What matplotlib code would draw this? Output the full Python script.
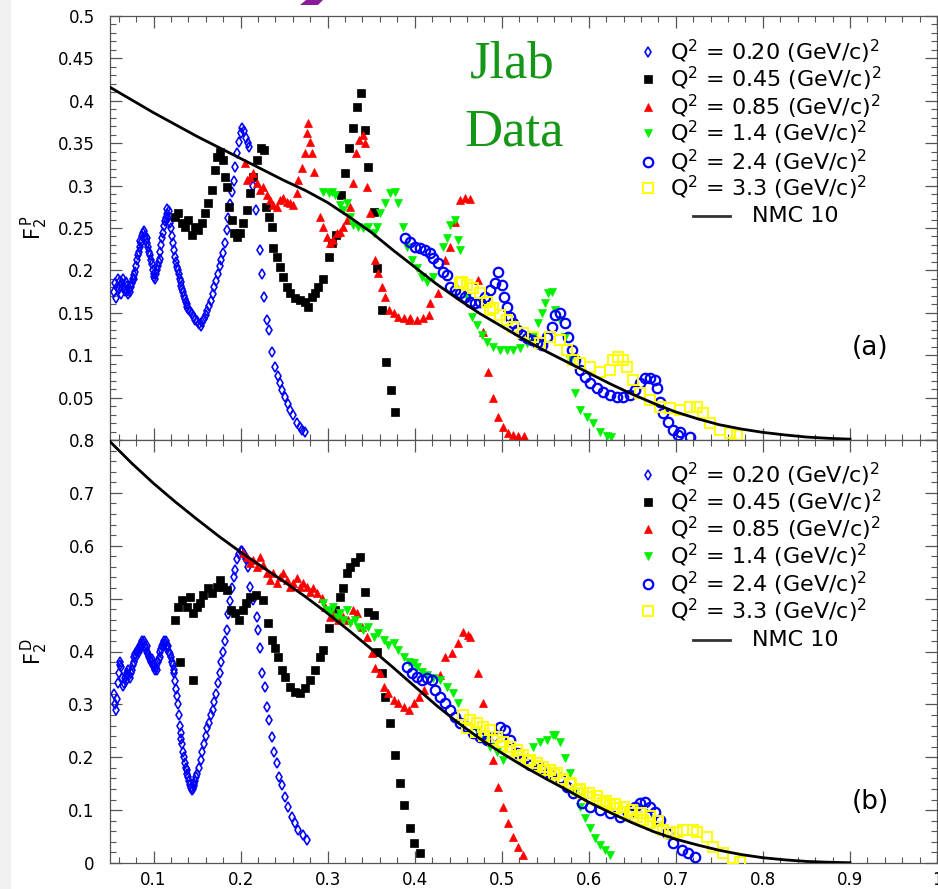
import matplotlib
matplotlib.use("Agg")
import matplotlib.pyplot as plt
from matplotlib.ticker import MultipleLocator, FuncFormatter
from matplotlib.patches import Rectangle, Polygon

plt.rcParams['font.family'] = ['DejaVu Sans']
plt.rcParams['mathtext.fontset'] = 'dejavusans'

# ---------------- Panel (a): proton F2 ----------------
p_q020_x = [0.055, 0.056, 0.057, 0.058, 0.059, 0.060, 0.061, 0.062, 0.063, 0.064, 0.065, 0.066, 0.067, 0.068,
            0.069, 0.070, 0.071, 0.072, 0.073, 0.074, 0.075, 0.076, 0.077, 0.078, 0.079, 0.080, 0.081, 0.082,
            0.083, 0.084, 0.085, 0.086, 0.087, 0.088, 0.089, 0.090, 0.091, 0.092, 0.093, 0.094, 0.095, 0.096,
            0.097, 0.098, 0.099, 0.100, 0.101, 0.102, 0.103, 0.104, 0.105, 0.106, 0.107, 0.108, 0.109, 0.110,
            0.111, 0.112, 0.113, 0.114, 0.115, 0.116, 0.117, 0.118, 0.119, 0.120, 0.121, 0.122, 0.124, 0.125,
            0.126, 0.127, 0.128, 0.129, 0.130, 0.131, 0.132, 0.133, 0.134, 0.135, 0.136, 0.137, 0.138, 0.139,
            0.140, 0.142, 0.144, 0.146, 0.148, 0.150, 0.152, 0.154, 0.156, 0.158, 0.160, 0.162, 0.164, 0.166,
            0.168, 0.170, 0.172, 0.174, 0.176, 0.178, 0.180, 0.182, 0.184, 0.186, 0.188, 0.190, 0.192, 0.194,
            0.196, 0.198, 0.200, 0.202, 0.204, 0.206, 0.208, 0.210, 0.214, 0.2175, 0.2224, 0.2243, 0.227,
            0.230, 0.233, 0.236, 0.240, 0.243, 0.2454, 0.248, 0.251, 0.254, 0.257, 0.260, 0.2646, 0.268,
            0.271, 0.274]
p_q020_y = [0.175, 0.185, 0.168, 0.180, 0.190, 0.178, 0.188, 0.182, 0.172, 0.185, 0.190, 0.180, 0.176, 0.186,
            0.182, 0.176, 0.172, 0.178, 0.174, 0.180, 0.185, 0.190, 0.195, 0.190, 0.198, 0.205, 0.212, 0.218,
            0.222, 0.228, 0.235, 0.232, 0.240, 0.244, 0.246, 0.240, 0.236, 0.232, 0.238, 0.228, 0.222, 0.218,
            0.212, 0.208, 0.200, 0.196, 0.192, 0.190, 0.196, 0.200, 0.205, 0.210, 0.214, 0.222, 0.230, 0.238,
            0.244, 0.252, 0.258, 0.262, 0.266, 0.272, 0.262, 0.270, 0.256, 0.250, 0.240, 0.232, 0.224, 0.216,
            0.210, 0.204, 0.200, 0.196, 0.190, 0.186, 0.182, 0.178, 0.174, 0.170, 0.166, 0.163, 0.160, 0.157,
            0.155, 0.152, 0.148, 0.145, 0.142, 0.140, 0.137, 0.134, 0.139, 0.143, 0.147, 0.152, 0.158, 0.164,
            0.172, 0.180, 0.188, 0.196, 0.205, 0.212, 0.220, 0.232, 0.248, 0.262, 0.278, 0.292, 0.305, 0.322,
            0.338, 0.352, 0.362, 0.368, 0.364, 0.356, 0.350, 0.346, 0.299, 0.271, 0.224, 0.196, 0.169,
            0.1415, 0.130, 0.104, 0.0865, 0.075, 0.0668, 0.059, 0.051, 0.043, 0.0354, 0.029, 0.0196, 0.015,
            0.012, 0.0098]

p_q045_x = [0.1247, 0.1285, 0.1324, 0.1362, 0.140, 0.1439, 0.1477, 0.1515, 0.1554, 0.1592, 0.163, 0.1669,
            0.1707, 0.1726, 0.1764, 0.1795, 0.1822, 0.1841, 0.1872, 0.1898, 0.1925, 0.1956, 0.1994, 0.2033,
            0.2071, 0.2109, 0.2148, 0.2186, 0.2232, 0.227, 0.2293, 0.2331, 0.2358, 0.2377, 0.2416, 0.2454,
            0.2492, 0.2531, 0.2569, 0.2626, 0.2684, 0.2741, 0.278, 0.2818, 0.2856, 0.2895, 0.2944, 0.301,
            0.3048, 0.3098, 0.3151, 0.320, 0.324, 0.3297, 0.3335, 0.3381, 0.3431, 0.3469, 0.3527, 0.3565,
            0.3623, 0.3672, 0.3726, 0.3776]
p_q045_y = [0.2633, 0.2673, 0.2555, 0.2515, 0.2594, 0.2417, 0.2515, 0.2476, 0.2555, 0.2673, 0.279, 0.2948,
            0.3184, 0.334, 0.340, 0.330, 0.3105, 0.2987, 0.2751, 0.2594, 0.2437, 0.2398, 0.2437, 0.2555,
            0.2712, 0.2909, 0.3105, 0.330, 0.344, 0.342, 0.2751, 0.2633, 0.2515, 0.226, 0.2162, 0.2044,
            0.1926, 0.1808, 0.173, 0.167, 0.165, 0.163, 0.1572, 0.169, 0.173, 0.1808, 0.1894, 0.2162,
            0.232, 0.2417, 0.289, 0.3145, 0.344, 0.3675, 0.393, 0.4096, 0.3655, 0.3223, 0.2692, 0.2024,
            0.1533, 0.0924, 0.059, 0.0334]

p_q085_x = [0.2052, 0.2071, 0.2109, 0.2148, 0.2186, 0.2224, 0.2262, 0.230, 0.2339, 0.2377, 0.2416, 0.2454,
            0.2492, 0.2531, 0.2569, 0.2607, 0.2646, 0.2665, 0.2703, 0.2741, 0.2761, 0.278, 0.2799, 0.2818,
            0.2845, 0.2914, 0.2952, 0.299, 0.3029, 0.3067, 0.3105, 0.3144, 0.3182, 0.322, 0.3259, 0.3297,
            0.3328, 0.3366, 0.3404, 0.3431, 0.345, 0.3489, 0.3546, 0.3584, 0.3623, 0.3661, 0.370, 0.3757,
            0.3814, 0.3872, 0.3929, 0.3948, 0.4025, 0.4101, 0.4159, 0.418, 0.427, 0.435, 0.441, 0.4466,
            0.452, 0.458, 0.464, 0.473, 0.479, 0.4845, 0.490, 0.496, 0.502, 0.507, 0.513, 0.519, 0.525]
p_q085_y = [0.3262, 0.3066, 0.3105, 0.3145, 0.3026, 0.2948, 0.2987, 0.2889, 0.283, 0.2771, 0.2751, 0.283,
            0.285, 0.281, 0.279, 0.2771, 0.2909, 0.3066, 0.3203, 0.338, 0.3616, 0.3734, 0.3518, 0.338,
            0.3164, 0.2633, 0.2515, 0.2398, 0.232, 0.2358, 0.2437, 0.2457, 0.2515, 0.2594, 0.2751, 0.3026,
            0.338, 0.3537, 0.3596, 0.3498, 0.2987, 0.2673, 0.2122, 0.1965, 0.1808, 0.169, 0.1533, 0.1493,
            0.1454, 0.1434, 0.1415, 0.1435, 0.1415, 0.1435, 0.1474, 0.1612, 0.173, 0.212, 0.228, 0.257,
            0.283, 0.285, 0.284, 0.189, 0.127, 0.080, 0.0495, 0.027, 0.015, 0.008, 0.006, 0.005, 0.005]

p_q14_x = [0.2952, 0.301, 0.3048, 0.3086, 0.3144, 0.3182, 0.322, 0.3259, 0.3297, 0.3354, 0.3412, 0.3469,
           0.3527, 0.3565, 0.3603, 0.366, 0.3718, 0.3776, 0.381, 0.3868, 0.3914, 0.397, 0.4029, 0.4086,
           0.4144, 0.4213, 0.4328, 0.4374, 0.4408, 0.4466, 0.450, 0.4523, 0.4603, 0.466, 0.4718, 0.4776,
           0.4833, 0.4902, 0.4983, 0.5063, 0.5132, 0.5213, 0.5293, 0.5362, 0.542, 0.5466, 0.550, 0.5534,
           0.558, 0.5615, 0.5672, 0.573, 0.5787, 0.5845, 0.5902, 0.5983, 0.6052, 0.6132, 0.6213, 0.625]
p_q14_y = [0.2928, 0.2909, 0.2928, 0.2889, 0.277, 0.2712, 0.279, 0.2633, 0.2535, 0.2515, 0.2496, 0.2515,
           0.2437, 0.2515, 0.2673, 0.279, 0.291, 0.2925, 0.279, 0.251, 0.2277, 0.212, 0.2028, 0.1925,
           0.1867, 0.192, 0.2277, 0.238, 0.2535, 0.259, 0.236, 0.224, 0.1686, 0.145, 0.1356, 0.1238,
           0.1156, 0.1097, 0.1061, 0.1061, 0.1061, 0.1085, 0.1144, 0.1215, 0.138, 0.1497, 0.1615, 0.1733,
           0.1745, 0.1533, 0.1415, 0.1215, 0.0943, 0.0554, 0.0354, 0.0275, 0.020, 0.0098, 0.0047, 0.004]

p_q24_x = [0.389, 0.3948, 0.4006, 0.4063, 0.4121, 0.4178, 0.4213, 0.427, 0.4328, 0.4374, 0.4408, 0.4466,
           0.4523, 0.458, 0.4638, 0.4695, 0.4753, 0.481, 0.4868, 0.4925, 0.496, 0.5006, 0.5029, 0.5063,
           0.5098, 0.5132, 0.5178, 0.5236, 0.5293, 0.535, 0.5408, 0.5466, 0.5523, 0.558, 0.5615, 0.5672,
           0.573, 0.5764, 0.581, 0.5845, 0.5902, 0.596, 0.6017, 0.6098, 0.6167, 0.6247, 0.6328, 0.6397,
           0.6477, 0.6534, 0.6592, 0.6649, 0.6707, 0.6764, 0.6787, 0.6822, 0.6857, 0.6914, 0.6971, 0.7029,
           0.7052, 0.7167]
p_q24_y = [0.238, 0.2336, 0.2277, 0.2264, 0.224, 0.2201, 0.2146, 0.2087, 0.1981, 0.1945, 0.1808, 0.1769,
           0.1733, 0.1686, 0.1628, 0.1615, 0.1628, 0.1686, 0.1769, 0.1851, 0.1981, 0.1828, 0.1686, 0.1568,
           0.1451, 0.1379, 0.1297, 0.1238, 0.120, 0.118, 0.1144, 0.112, 0.1215, 0.1333, 0.1474, 0.1497,
           0.138, 0.1215, 0.1061, 0.0943, 0.0825, 0.0743, 0.0672, 0.0613, 0.0566, 0.0531, 0.0507, 0.0507,
           0.0531, 0.059, 0.0672, 0.0731, 0.0731, 0.0708, 0.0613, 0.0448, 0.0318, 0.0212, 0.0118, 0.0059,
           0.0094, 0.0035]

p_q33_x = [0.452, 0.4546, 0.4603, 0.4672, 0.4753, 0.4833, 0.4868, 0.4902, 0.4983, 0.5063, 0.5132, 0.5247,
           0.5362, 0.5443, 0.5557, 0.5672, 0.5753, 0.5822, 0.5902, 0.6017, 0.6132, 0.6247, 0.6282, 0.6339,
           0.6397, 0.6443, 0.6512, 0.6592, 0.6707, 0.6822, 0.6937, 0.7052, 0.7167, 0.7247, 0.7316, 0.7397,
           0.7512, 0.7626, 0.7707]
p_q33_y = [0.185, 0.1867, 0.1828, 0.1792, 0.1733, 0.1628, 0.153, 0.1557, 0.1474, 0.1415, 0.1333, 0.1262,
           0.1215, 0.1144, 0.1215, 0.118, 0.1061, 0.0943, 0.0908, 0.0861, 0.0802, 0.0825, 0.0943, 0.0979,
           0.0943, 0.0861, 0.0708, 0.0554, 0.0472, 0.0393, 0.0377, 0.0354, 0.0393, 0.0393, 0.0318, 0.020,
           0.0118, 0.0083, 0.0059]

p_nmc_x = [0.050, 0.075, 0.100, 0.125, 0.150, 0.175, 0.200, 0.225, 0.250, 0.275, 0.300, 0.325, 0.350,
           0.375, 0.400, 0.425, 0.450, 0.475, 0.500, 0.525, 0.550, 0.575, 0.600, 0.625, 0.650, 0.675,
           0.700, 0.725, 0.750, 0.775, 0.800, 0.825, 0.850, 0.875, 0.900]
p_nmc_y = [0.416, 0.401, 0.386, 0.372, 0.358, 0.345, 0.332, 0.319, 0.306, 0.294, 0.280, 0.263, 0.245,
           0.224, 0.204, 0.184, 0.166, 0.149, 0.134, 0.119, 0.105, 0.092, 0.079, 0.066, 0.054, 0.043,
           0.033, 0.025, 0.018, 0.013, 0.009, 0.006, 0.0035, 0.002, 0.001]

# ---------------- Panel (b): deuteron F2 ----------------
d_q020_x = [0.055, 0.056, 0.057, 0.058, 0.059, 0.060, 0.061, 0.062, 0.063, 0.064, 0.065, 0.066, 0.067, 0.068,
            0.069, 0.070, 0.071, 0.072, 0.073, 0.074, 0.075, 0.076, 0.077, 0.078, 0.079, 0.080, 0.081, 0.082,
            0.083, 0.084, 0.085, 0.086, 0.087, 0.088, 0.089, 0.090, 0.091, 0.092, 0.093, 0.094, 0.095, 0.096,
            0.097, 0.098, 0.099, 0.100, 0.101, 0.102, 0.103, 0.104, 0.105, 0.106, 0.107, 0.108, 0.109, 0.110,
            0.111, 0.112, 0.113, 0.114, 0.115, 0.116, 0.117, 0.118, 0.119, 0.120, 0.121, 0.122, 0.123, 0.124,
            0.125, 0.126, 0.127, 0.128, 0.129, 0.130, 0.131, 0.132, 0.133, 0.134, 0.135, 0.136, 0.137, 0.138,
            0.139, 0.140, 0.141, 0.142, 0.143, 0.144, 0.145, 0.146, 0.147, 0.148, 0.149, 0.150, 0.152, 0.154,
            0.156, 0.158, 0.160, 0.162, 0.164, 0.166, 0.168, 0.170, 0.172, 0.174, 0.176, 0.178, 0.180, 0.182,
            0.184, 0.186, 0.188, 0.190, 0.192, 0.194, 0.196, 0.198, 0.200, 0.202, 0.204, 0.206, 0.208,
            0.2109, 0.2148, 0.2186, 0.2205, 0.2224, 0.2251, 0.2282, 0.2308, 0.2331, 0.2358, 0.2385, 0.2416,
            0.2446, 0.2473, 0.2511, 0.255, 0.2588, 0.2626, 0.2665, 0.2715, 0.2761]
d_q020_y = [0.32, 0.30, 0.29, 0.31, 0.34, 0.36, 0.375, 0.38, 0.37, 0.35, 0.335, 0.34, 0.35, 0.345,
            0.355, 0.36, 0.365, 0.355, 0.35, 0.36, 0.365, 0.375, 0.38, 0.39, 0.395, 0.39, 0.40, 0.405,
            0.40, 0.41, 0.405, 0.415, 0.42, 0.415, 0.42, 0.41, 0.405, 0.40, 0.41, 0.395, 0.39, 0.385,
            0.38, 0.385, 0.375, 0.37, 0.375, 0.365, 0.37, 0.365, 0.38, 0.385, 0.39, 0.40, 0.405, 0.41,
            0.415, 0.42, 0.415, 0.42, 0.41, 0.405, 0.41, 0.40, 0.395, 0.39, 0.38, 0.375, 0.365, 0.36,
            0.345, 0.33, 0.315, 0.30, 0.28, 0.26, 0.245, 0.235, 0.225, 0.21, 0.20, 0.19, 0.18, 0.175,
            0.168, 0.162, 0.155, 0.148, 0.142, 0.138, 0.14, 0.145, 0.15, 0.155, 0.162, 0.168, 0.18, 0.195,
            0.21, 0.225, 0.24, 0.255, 0.265, 0.28, 0.29, 0.305, 0.32, 0.34, 0.36, 0.38, 0.40, 0.42,
            0.44, 0.47, 0.495, 0.52, 0.54, 0.555, 0.575, 0.585, 0.59, 0.59, 0.585, 0.575, 0.56,
            0.5223, 0.497, 0.4656, 0.4404, 0.4058, 0.3585, 0.3333, 0.2955, 0.2703, 0.2388, 0.2104, 0.1884,
            0.1632, 0.1474, 0.1254, 0.1065, 0.0876, 0.075, 0.0624, 0.0529, 0.0435]

d_q045_x = [0.1247, 0.1285, 0.1305, 0.1324, 0.1381, 0.142, 0.1458, 0.1458, 0.1496, 0.1534, 0.1573, 0.163,
            0.1669, 0.1726, 0.1764, 0.1803, 0.1841, 0.1887, 0.1937, 0.1987, 0.2025, 0.2063, 0.2109, 0.2178,
            0.2262, 0.232, 0.2358, 0.2397, 0.2435, 0.2473, 0.2511, 0.2569, 0.2626, 0.2684, 0.2741, 0.2799,
            0.2856, 0.2914, 0.2952, 0.301, 0.3086, 0.3144, 0.3182, 0.322, 0.3259, 0.3316, 0.3374, 0.3431,
            0.3469, 0.3527, 0.3565, 0.3623, 0.3661, 0.3718, 0.3776, 0.3833, 0.3872, 0.3941, 0.3987, 0.4056]
d_q045_y = [0.4593, 0.4845, 0.3806, 0.4971, 0.4845, 0.5035, 0.472, 0.346, 0.4845, 0.4908, 0.5066, 0.5192,
            0.5098, 0.5224, 0.535, 0.5224, 0.516, 0.4782, 0.4719, 0.4593, 0.4782, 0.4908, 0.5035, 0.5066,
            0.4971, 0.453, 0.4215, 0.4058, 0.3901, 0.3648, 0.3522, 0.3333, 0.3239, 0.3207, 0.3302, 0.346,
            0.3648, 0.3901, 0.4026, 0.4436, 0.4782, 0.5035, 0.5192, 0.5476, 0.5602, 0.5696, 0.5791, 0.5129,
            0.4751, 0.4688, 0.3995, 0.3585, 0.3144, 0.264, 0.2041, 0.1506, 0.1096, 0.0655, 0.0372, 0.0183]

d_q085_x = [0.2033, 0.2071, 0.2109, 0.2148, 0.2186, 0.2224, 0.2262, 0.230, 0.2339, 0.2377, 0.2416, 0.2454,
            0.2492, 0.2531, 0.2569, 0.2607, 0.2646, 0.2684, 0.2722, 0.2761, 0.2799, 0.2837, 0.2875, 0.2933,
            0.2971, 0.3029, 0.3067, 0.3124, 0.3182, 0.3239, 0.3297, 0.3335, 0.3393, 0.345, 0.3508, 0.3546,
            0.3603, 0.3642, 0.3699, 0.3757, 0.3814, 0.3872, 0.393, 0.3987, 0.4044, 0.4102, 0.4293, 0.4351,
            0.4431, 0.450, 0.4557, 0.4615, 0.4638, 0.473, 0.4787, 0.490, 0.496, 0.5017, 0.5075, 0.513,
            0.519, 0.5247]
d_q085_y = [0.5854, 0.5791, 0.5665, 0.5728, 0.5602, 0.5791, 0.5633, 0.5476, 0.535, 0.5476, 0.5287, 0.5413,
            0.5476, 0.535, 0.5224, 0.5287, 0.5381, 0.5224, 0.5287, 0.5224, 0.5129, 0.5192, 0.5098, 0.5003,
            0.4845, 0.4656, 0.4719, 0.4593, 0.4656, 0.4593, 0.4782, 0.4719, 0.4467, 0.4278, 0.3963, 0.368,
            0.3585, 0.333, 0.3207, 0.308, 0.3018, 0.2955, 0.2892, 0.3018, 0.3144, 0.327, 0.3554, 0.3894,
            0.397, 0.4159, 0.4367, 0.431, 0.427, 0.359, 0.302, 0.195, 0.144, 0.106, 0.0756, 0.049,
            0.030, 0.015]

d_q14_x = [0.2952, 0.299, 0.3029, 0.3067, 0.3105, 0.3144, 0.3182, 0.322, 0.3259, 0.3316, 0.3354, 0.3412,
           0.3469, 0.3527, 0.3584, 0.3642, 0.3699, 0.3757, 0.3814, 0.3872, 0.393, 0.3987, 0.4029, 0.4086,
           0.4144, 0.4213, 0.4293, 0.4374, 0.4443, 0.450, 0.4718, 0.4787, 0.4868, 0.4948, 0.5017, 0.5362,
           0.5443, 0.5523, 0.5592, 0.5615, 0.5672, 0.573, 0.5787, 0.5845, 0.5902, 0.596, 0.6017, 0.6075,
           0.6132, 0.619, 0.6247]
d_q14_y = [0.4909, 0.4782, 0.4719, 0.4845, 0.4656, 0.4719, 0.4593, 0.4782, 0.453, 0.4593, 0.4467, 0.4404,
           0.4467, 0.4278, 0.4341, 0.4215, 0.412, 0.4152, 0.4026, 0.390, 0.3806, 0.3774, 0.370, 0.362,
           0.355, 0.350, 0.346, 0.3327, 0.321, 0.3025, 0.2514, 0.2325, 0.2193, 0.2098, 0.195, 0.2193,
           0.2287, 0.2325, 0.242, 0.242, 0.2287, 0.1985, 0.170, 0.1323, 0.1059, 0.0851, 0.0662, 0.0473,
           0.034, 0.0246, 0.0151]

d_q24_x = [0.3914, 0.3971, 0.4029, 0.4086, 0.4144, 0.4201, 0.4236, 0.4293, 0.4351, 0.4408, 0.4466, 0.4523,
           0.4603, 0.4672, 0.4753, 0.4833, 0.4902, 0.4983, 0.504, 0.5098, 0.5178, 0.5247, 0.5328, 0.5443,
           0.5557, 0.5672, 0.5753, 0.5822, 0.5925, 0.6017, 0.6132, 0.6247, 0.6362, 0.6477, 0.6534, 0.6592,
           0.6649, 0.6707, 0.6764, 0.6822, 0.6902, 0.6971, 0.7075, 0.7144, 0.7224]
d_q24_y = [0.3705, 0.3592, 0.3516, 0.346, 0.3497, 0.346, 0.327, 0.3138, 0.3025, 0.2892, 0.276, 0.2646,
           0.2571, 0.2457, 0.2382, 0.2325, 0.2382, 0.2571, 0.2514, 0.2325, 0.2079, 0.1947, 0.1853, 0.1796,
           0.170, 0.1607, 0.1437, 0.1323, 0.1134, 0.1059, 0.1002, 0.0945, 0.087, 0.0945, 0.1059, 0.1134,
           0.1153, 0.1059, 0.0964, 0.0813, 0.0567, 0.0378, 0.0246, 0.0189, 0.0113]

d_q33_x = [0.4557, 0.4638, 0.4718, 0.4787, 0.4868, 0.4948, 0.5017, 0.5098, 0.5178, 0.5247, 0.5328, 0.5408,
           0.5477, 0.5557, 0.5638, 0.5706, 0.5787, 0.5868, 0.5937, 0.6017, 0.6098, 0.6167, 0.6247, 0.6328,
           0.6397, 0.6477, 0.6557, 0.6626, 0.6707, 0.6787, 0.6856, 0.6937, 0.7017, 0.7086, 0.7201, 0.7247,
           0.7362, 0.7431, 0.7546, 0.7661, 0.7741,
           0.460, 0.470, 0.480, 0.490, 0.500, 0.510, 0.520, 0.530, 0.540, 0.550, 0.560, 0.570, 0.580,
           0.590, 0.600, 0.610, 0.620, 0.630, 0.640, 0.650, 0.660, 0.670, 0.680]
d_q33_y = [0.2798, 0.2703, 0.2646, 0.2571, 0.2514, 0.2382, 0.2287, 0.2193, 0.2136, 0.2041, 0.1947, 0.189,
           0.1815, 0.1758, 0.170, 0.1569, 0.1512, 0.138, 0.1323, 0.1248, 0.1191, 0.1134, 0.1096, 0.104,
           0.0964, 0.0945, 0.087, 0.0813, 0.0756, 0.0681, 0.0624, 0.0567, 0.0586, 0.0624, 0.0624, 0.0586,
           0.0491, 0.0302, 0.0189, 0.0095, 0.0019,
           0.255, 0.248, 0.240, 0.232, 0.222, 0.212, 0.202, 0.192, 0.184, 0.176, 0.166, 0.158, 0.150,
           0.140, 0.132, 0.126, 0.118, 0.112, 0.106, 0.100, 0.094, 0.088, 0.080]

d_nmc_x = [0.050, 0.075, 0.100, 0.125, 0.150, 0.175, 0.200, 0.225, 0.250, 0.275, 0.300, 0.325, 0.350,
           0.375, 0.400, 0.425, 0.450, 0.475, 0.500, 0.525, 0.550, 0.575, 0.600, 0.625, 0.650, 0.675,
           0.700, 0.725, 0.750, 0.775, 0.800, 0.825, 0.850, 0.875, 0.900]
d_nmc_y = [0.797, 0.756, 0.718, 0.683, 0.650, 0.618, 0.588, 0.560, 0.532, 0.503, 0.472, 0.439, 0.405,
           0.370, 0.334, 0.298, 0.265, 0.235, 0.208, 0.183, 0.160, 0.138, 0.115, 0.095, 0.076, 0.059,
           0.045, 0.034, 0.024, 0.016, 0.010, 0.006, 0.003, 0.0015, 0.0005]

legend_labels = [r'Q$^{2}$ = 0.20 (GeV/c)$^{2}$', r'Q$^{2}$ = 0.45 (GeV/c)$^{2}$',
                 r'Q$^{2}$ = 0.85 (GeV/c)$^{2}$', r'Q$^{2}$ = 1.4 (GeV/c)$^{2}$',
                 r'Q$^{2}$ = 2.4 (GeV/c)$^{2}$', r'Q$^{2}$ = 3.3 (GeV/c)$^{2}$']
nmc_label = 'NMC 10'

BLUE = '#0000ff'
RED = '#ff0000'
GREEN = '#00f000'
YELLOW = '#ffff00'

styles = [
    dict(marker='d', ms=5.3, mfc='none', mec=BLUE, mew=1.15, ls='none'),
    dict(marker='s', ms=6.2, mfc='black', mec='black', mew=0.5, ls='none'),
    dict(marker='^', ms=6.2, mfc=RED, mec=RED, mew=0.5, ls='none'),
    dict(marker='v', ms=6.2, mfc=GREEN, mec=GREEN, mew=0.5, ls='none'),
    dict(marker='o', ms=6.8, mfc='none', mec=BLUE, mew=1.6, ls='none'),
    dict(marker='s', ms=6.8, mfc='none', mec=YELLOW, mew=1.4, ls='none'),
]

fig = plt.figure(figsize=(9.38, 8.89), dpi=100)
fig.patches.append(Rectangle((0, 0), 11 / 938, 1, transform=fig.transFigure,
                             facecolor='#f0f0f0', edgecolor='none', zorder=-5))
fig.patches.append(Polygon([(300 / 938, 1 - 5 / 889), (318 / 938, 1 - 5 / 889),
                            (323 / 938, 1.0), (306 / 938, 1.0)], closed=True,
                           transform=fig.transFigure, facecolor='#8a1c9a', edgecolor='none'))

ax1 = fig.add_axes([110 / 938, 449 / 889, 827 / 938, 424 / 889])
ax2 = fig.add_axes([110 / 938, 26 / 889, 827 / 938, 423 / 889])

panels = [
    (ax1, [(p_q020_x, p_q020_y), (p_q045_x, p_q045_y), (p_q085_x, p_q085_y),
           (p_q14_x, p_q14_y), (p_q24_x, p_q24_y), (p_q33_x, p_q33_y)], (p_nmc_x, p_nmc_y)),
    (ax2, [(d_q020_x, d_q020_y), (d_q045_x, d_q045_y), (d_q085_x, d_q085_y),
           (d_q14_x, d_q14_y), (d_q24_x, d_q24_y), (d_q33_x, d_q33_y)], (d_nmc_x, d_nmc_y)),
]

for ax, series, nmc in panels:
    for (xs, ys), st in zip(series, styles):
        ax.plot(xs, ys, **st, zorder=3)
    ax.plot(nmc[0], nmc[1], color='black', lw=2.0, zorder=4, solid_joinstyle='round')
    ax.set_xlim(0.05, 1.0)
    ax.xaxis.set_major_locator(MultipleLocator(0.1))
    ax.xaxis.set_minor_locator(MultipleLocator(0.02))
    ax.tick_params(which='both', direction='in', top=True, right=True, colors='#555555',
                   labelcolor='black', labelsize=12)
    ax.tick_params(which='major', length=8.5, width=0.9)
    ax.tick_params(which='minor', length=4.3, width=0.8)
    ax.tick_params(axis='y', pad=11)
    ax.tick_params(axis='x', pad=6)
    for s in ax.spines.values():
        s.set_color('#555555')
        s.set_linewidth(0.9)

ax1.set_ylim(0, 0.5)
ax1.yaxis.set_major_locator(MultipleLocator(0.05))
ax1.yaxis.set_minor_locator(MultipleLocator(0.01))
ax1.tick_params(labelbottom=False)
ax1.yaxis.set_major_formatter(FuncFormatter(lambda v, p: '' if abs(v) < 1e-9 else '%g' % round(v, 3)))

ax2.set_ylim(0, 0.8)
ax2.yaxis.set_major_locator(MultipleLocator(0.1))
ax2.yaxis.set_minor_locator(MultipleLocator(0.02))
ax2.yaxis.set_major_formatter(FuncFormatter(lambda v, p: '%g' % round(v, 3)))
ax2.xaxis.set_major_formatter(FuncFormatter(lambda v, p: '%g' % round(v, 3)))

ax1.set_ylabel(r'$\mathregular{F_2^{\,P}}$', fontsize=15)
ax2.set_ylabel(r'$\mathregular{F_2^{\,D}}$', fontsize=15)
ax1.yaxis.set_label_coords(-0.073, 0.5)
ax2.yaxis.set_label_coords(-0.073, 0.5)

# legends (drawn manually in axes coordinates)
leg_rows = {ax1: [0.915, 0.851, 0.785, 0.724, 0.656, 0.594, 0.528],
            ax2: [0.917, 0.853, 0.790, 0.726, 0.660, 0.596, 0.527]}
for ax, rows in leg_rows.items():
    for lab, st, yy in zip(legend_labels, styles, rows[:6]):
        ax.plot([0.6505], [yy], transform=ax.transAxes, clip_on=False, **st)
        ax.text(0.677, yy, lab, transform=ax.transAxes, fontsize=16, va='center', ha='left')
    ax.plot([0.705, 0.750], [rows[6], rows[6]], transform=ax.transAxes, color='#333333', lw=2.0)
    ax.text(0.776, rows[6], nmc_label, transform=ax.transAxes, fontsize=16, va='center', ha='left')

ax1.text(0.9196, 0.217, '(a)', transform=ax1.transAxes, fontsize=19, ha='center', va='center')
ax2.text(0.9196, 0.144, '(b)', transform=ax2.transAxes, fontsize=19, ha='center', va='center')

ax1.text(512 / 938, 1 - 78 / 889, 'Jlab', transform=fig.transFigure, fontsize=38,
         family='Liberation Serif', color='#169616', ha='center', va='baseline')
ax1.text(514 / 938, 1 - 145 / 889, 'Data', transform=fig.transFigure, fontsize=38,
         family='Liberation Serif', color='#169616', ha='center', va='baseline')

fig.savefig('out.png', dpi=100)
